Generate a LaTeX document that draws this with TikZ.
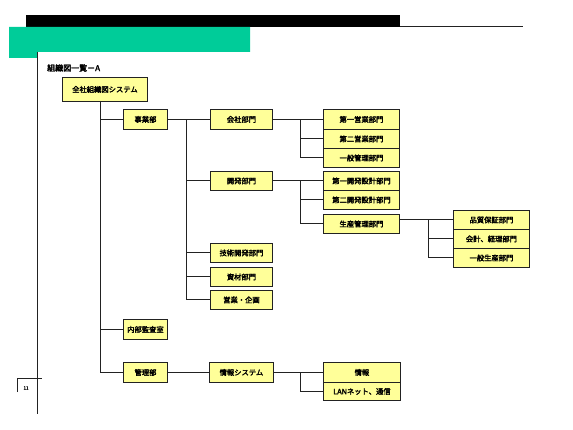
\documentclass[tikz,border=0pt]{standalone}
\usepackage{fontspec}
\newfontfamily\jp[FakeBold=2.5]{Noto Sans CJK JP}
\definecolor{boxyel}{HTML}{FFFF99}
\definecolor{hdgreen}{HTML}{00CC99}
\definecolor{lnc}{HTML}{222222}
\begin{document}
\begin{tikzpicture}[x=1pt,y=-1pt,
  box/.style={draw=lnc,line width=0.9pt,fill=boxyel,inner sep=0pt,
    font=\jp\fontsize{7.3}{8}\selectfont,anchor=north west},
  conn/.style={draw=lnc,line width=0.9pt}]
\useasboundingbox (0,0) rectangle (573,430);
% header
\fill[black] (26,15) rectangle (400,27);
\draw[lnc,line width=1pt] (400,27) -- (523,27);
\fill[hdgreen] (9,27) -- (250,27) -- (250,52) -- (37,52) -- (37,58) -- (9,58) -- cycle;
\draw[lnc,line width=1pt] (37,52) -- (37,414);
% page mark
\draw[lnc,line width=0.8pt] (17,392) -- (17,378) -- (42,378);
\node[font=\jp\fontsize{4.5}{5}\selectfont,inner sep=0pt] (pg) at (26,388) {11};
% title
\node[font=\jp\fontsize{8}{9}\selectfont,inner sep=0pt,anchor=west] (title) at (47,68) {組織図一覧－A};
% boxes
\node[box,minimum width=85pt,minimum height=24pt] (root) at (62,77) {全社組織図システム};
\node[box,minimum width=44pt,minimum height=20pt] (jig) at (123,109) {事業部};
\node[box,minimum width=62pt,minimum height=20pt] (kai) at (210,109) {会社部門};
\node[box,minimum width=76pt,minimum height=20pt] (a1) at (323,109) {第一営業部門};
\node[box,minimum width=76pt,minimum height=19pt] (a2) at (323,129) {第二営業部門};
\node[box,minimum width=76pt,minimum height=19pt] (a3) at (323,148) {一般管理部門};
\node[box,minimum width=62pt,minimum height=19pt] (kah) at (210,171) {開発部門};
\node[box,minimum width=76pt,minimum height=19pt] (b1) at (323,171) {第一開発設計部門};
\node[box,minimum width=76pt,minimum height=19pt] (b2) at (323,190) {第二開発設計部門};
\node[box,minimum width=76pt,minimum height=19pt] (b3) at (323,214) {生産管理部門};
\node[box,minimum width=76pt,minimum height=19pt] (c1) at (453,210) {品質保証部門};
\node[box,minimum width=76pt,minimum height=19pt] (c2) at (453,229) {会計、経理部門};
\node[box,minimum width=76pt,minimum height=19pt] (c3) at (453,248) {一般生産部門};
\node[box,minimum width=62pt,minimum height=19pt] (d1) at (210,243) {技術開発部門};
\node[box,minimum width=62pt,minimum height=19pt] (d2) at (210,267) {資材部門};
\node[box,minimum width=62pt,minimum height=19pt] (d3) at (210,290) {営業・企画};
\node[box,minimum width=44pt,minimum height=20pt] (nai) at (123,319) {内部監査室};
\node[box,minimum width=44pt,minimum height=20pt] (kan) at (123,362) {管理部};
\node[box,minimum width=64pt,minimum height=20pt] (joh) at (209,362) {情報システム};
\node[box,minimum width=77pt,minimum height=20pt] (e1) at (323,362) {情報};
\node[box,minimum width=77pt,minimum height=18pt] (e2) at (323,382) {LANネット、通信};
% junction coordinates
\coordinate (t0) at (100,101);
\coordinate (j0) at (186,0);
\coordinate (k0) at (300,0);
\coordinate (m0) at (428,0);
% trunk
\draw[conn] (t0) -- (t0 |- kan.west) -- (kan.west);
\draw[conn] (t0 |- jig.west) -- (jig.west);
\draw[conn] (t0 |- nai.west) -- (nai.west);
% jigyo branch
\draw[conn] (jig.east) -- (kai.west);
\draw[conn] (j0 |- kai.west) -- (j0 |- d3.west) -- (d3.west);
\draw[conn] (j0 |- kah.west) -- (kah.west);
\draw[conn] (j0 |- d1.west) -- (d1.west);
\draw[conn] (j0 |- d2.west) -- (d2.west);
% kaisha
\draw[conn] (kai.east) -- (a1.west);
\draw[conn] (k0 |- a1.west) -- (k0 |- a3.west) -- (a3.west);
\draw[conn] (k0 |- a2.west) -- (a2.west);
% kaihatsu
\draw[conn] (kah.east) -- (b1.west);
\draw[conn] (k0 |- b1.west) -- (k0 |- b3.west) -- (b3.west);
\draw[conn] (k0 |- b2.west) -- (b2.west);
% b3 children
\draw[conn] (b3.east |- c1.west) -- (c1.west);
\draw[conn] (m0 |- c1.west) -- (m0 |- c3.west) -- (c3.west);
\draw[conn] (m0 |- c2.west) -- (c2.west);
% kanri
\draw[conn] (kan.east) -- (joh.west);
\draw[conn] (joh.east) -- (e1.west);
\draw[conn] (k0 |- e1.west) -- (k0 |- e2.west) -- (e2.west);
\end{tikzpicture}
\end{document}
